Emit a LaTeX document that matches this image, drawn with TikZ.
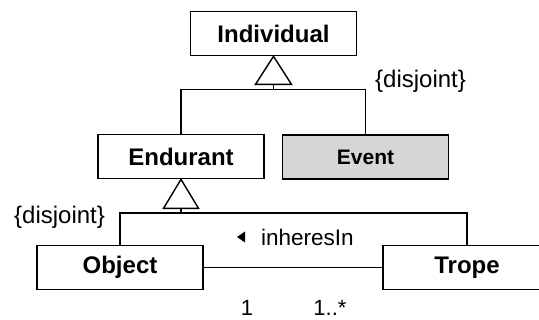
\documentclass[tikz,border=0pt]{standalone}
\usepackage{fontspec}
\setmainfont{Liberation Sans}
\usetikzlibrary{calc}
\begin{document}
\begin{tikzpicture}[x=1pt,y=-1pt,
  cls/.style={draw,line width=1.7pt,minimum width=166pt,minimum height=44pt,
    inner sep=0pt,font=\fontsize{24}{28}\selectfont\bfseries},
  conn/.style={line width=1.4pt},
  gen/.style={draw,line width=1.4pt,fill=white},
  lbl/.style={inner sep=0pt,font=\fontsize{24}{28}\selectfont},
  mult/.style={inner sep=0pt,font=\fontsize{22}{26}\selectfont}]
\useasboundingbox (0,0) rectangle (539,320);
\clip (0,0) rectangle (539,320);

% classes
\node[cls] (ind) at (273.5,33.5) {Individual};
\node[cls] (end) at (181,156.5) {Endurant};
\node[cls,fill=black!16,font=\fontsize{21}{25}\selectfont\bfseries] (evt) at (365.5,157) {Event};
\node[cls] (obj) at (120,267.5) {Object};
\node[cls,minimum width=168pt] (tro) at (467,267.5) {Trope};

% generalization: Individual <- Endurant, Event
\draw[gen] (ind.south) -- ++(-18,28) -- ++(36,0) -- cycle;
\coordinate (g1) at ($(ind.south)+(0,28)$);
\coordinate (b1) at ($(ind.south)+(0,33)$);
\draw[conn] (g1) -- (b1) -| (end.north);
\draw[conn] (b1) -| (evt.north);
\node[lbl,anchor=west] (dj1) at (375,81) {\{disjoint\}};

% generalization: Endurant <- Object, Trope
\draw[gen] (end.south) -- ++(-17.5,29) -- ++(35,0) -- cycle;
\coordinate (g2) at ($(end.south)+(0,29)$);
\coordinate (b2) at ($(end.south)+(0,33.5)$);
\draw[conn] (g2) -- (b2) -| (obj.north);
\draw[conn] (b2) -| (tro.north);
\node[lbl,anchor=west] (dj2) at (14,217) {\{disjoint\}};

% association inheresIn
\draw[conn] (obj.east) -- (tro.west);
\node[lbl,anchor=west,font=\fontsize{22.5}{26}\selectfont] (inh) at (261,237) {inheresIn};
\fill ($(inh.west)+(-24,0)$) -- ++(8,-5.5) -- ++(0,11) -- cycle;
\node[mult] (m1) at (247,307.5) {1};
\node[mult] (m2) at (330,307.5) {1..*};
\end{tikzpicture}
\end{document}
